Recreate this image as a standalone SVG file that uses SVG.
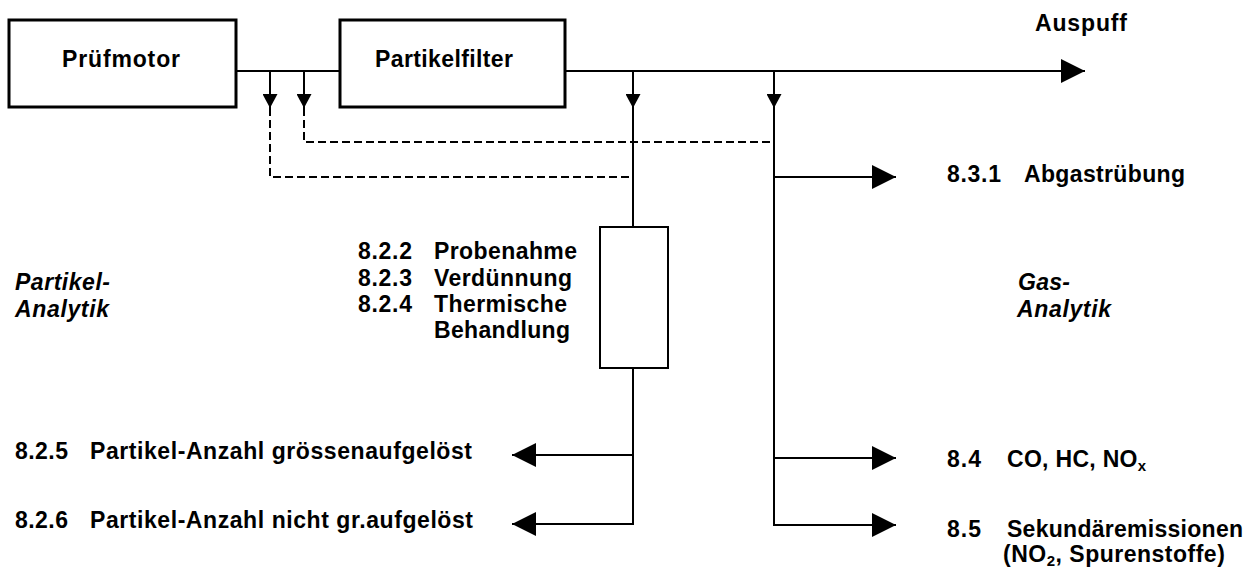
<svg xmlns="http://www.w3.org/2000/svg" width="1251" height="572" viewBox="0 0 1251 572">
<style>
  .t { font-family: "Liberation Sans", Arial, sans-serif; font-weight: bold; font-size: 23px; fill: #000; }
  .it { font-style: italic; }
  .box { fill: #fff; stroke: #000; stroke-width: 3; }
  .sbox { fill: #fff; stroke: #000; stroke-width: 2; }
  .ln { fill: none; stroke: #000; stroke-width: 2; }
  .dash { fill: none; stroke: #000; stroke-width: 2; stroke-dasharray: 8 4; }
  .sub { font-size: 15px; }
</style>
<defs>
  <marker id="big" markerUnits="userSpaceOnUse" markerWidth="24" markerHeight="24" viewBox="0 0 23 23" refX="23" refY="11.5" orient="auto">
    <path d="M0,0 L23,11.5 L0,23 Z" fill="#000"/>
  </marker>
  <marker id="small" markerUnits="userSpaceOnUse" markerWidth="14" markerHeight="15" viewBox="0 0 13 14" refX="13" refY="7" orient="auto">
    <path d="M0,0 L13,7 L0,14 Z" fill="#000"/>
  </marker>
</defs>
<rect width="1251" height="572" fill="#fff"/>

<g id="connectors">
  <line class="ln" x1="236" y1="71" x2="340" y2="71"/>
  <line class="ln" x1="565" y1="71" x2="1085" y2="71" marker-end="url(#big)"/>
  <line class="ln" x1="270" y1="71" x2="270" y2="108" marker-end="url(#small)"/>
  <line class="ln" x1="304" y1="71" x2="304" y2="108" marker-end="url(#small)"/>
  <polyline class="dash" points="270,108 270,177 633,177"/>
  <polyline class="dash" points="304,108 304,142 774,142"/>
  <line class="ln" x1="633" y1="71" x2="633" y2="108" marker-end="url(#small)"/>
  <line class="ln" x1="633" y1="106" x2="633" y2="227"/>
  <line class="ln" x1="774" y1="71" x2="774" y2="108" marker-end="url(#small)"/>
  <polyline class="ln" points="774,106 774,525 896,525" marker-end="url(#big)"/>
  <line class="ln" x1="774" y1="177" x2="896" y2="177" marker-end="url(#big)"/>
  <line class="ln" x1="774" y1="458" x2="896" y2="458" marker-end="url(#big)"/>
  <polyline class="ln" points="633,368 633,524 512,524" marker-end="url(#big)"/>
  <line class="ln" x1="633" y1="455" x2="512" y2="455" marker-end="url(#big)"/>
</g>

<g id="pruefmotor">
  <rect class="box" x="9" y="20" width="227" height="87"/>
  <text class="t" x="62" y="67" textLength="118" lengthAdjust="spacing">Prüfmotor</text>
</g>
<g id="partikelfilter">
  <rect class="box" x="340" y="20" width="225" height="87"/>
  <text class="t" x="375" y="67" textLength="138" lengthAdjust="spacing">Partikelfilter</text>
</g>
<g id="auspuff">
  <text class="t" x="1035" y="31" textLength="92" lengthAdjust="spacing">Auspuff</text>
</g>
<g id="probenahme">
  <rect class="sbox" x="600" y="227" width="68" height="141"/>
  <text class="t" x="358" y="259" textLength="54" lengthAdjust="spacing">8.2.2</text>
  <text class="t" x="434" y="259" textLength="143" lengthAdjust="spacing">Probenahme</text>
  <text class="t" x="358" y="286" textLength="54" lengthAdjust="spacing">8.2.3</text>
  <text class="t" x="434" y="286" textLength="138" lengthAdjust="spacing">Verdünnung</text>
  <text class="t" x="358" y="312" textLength="54" lengthAdjust="spacing">8.2.4</text>
  <text class="t" x="434" y="312" textLength="133" lengthAdjust="spacing">Thermische</text>
  <text class="t" x="434" y="338" textLength="136" lengthAdjust="spacing">Behandlung</text>
</g>
<g id="partikel-analytik">
  <text class="t it" x="15" y="290" textLength="95" lengthAdjust="spacing">Partikel-</text>
  <text class="t it" x="15" y="317" textLength="94" lengthAdjust="spacing">Analytik</text>
</g>
<g id="gas-analytik">
  <text class="t it" x="1018" y="290" textLength="52" lengthAdjust="spacing">Gas-</text>
  <text class="t it" x="1017" y="317" textLength="94" lengthAdjust="spacing">Analytik</text>
</g>
<g id="abgastruebung">
  <text class="t" x="947" y="182" textLength="54" lengthAdjust="spacing">8.3.1</text>
  <text class="t" x="1024" y="182" textLength="161" lengthAdjust="spacing">Abgastrübung</text>
</g>
<g id="anzahl-gr">
  <text class="t" x="15" y="459" textLength="53" lengthAdjust="spacing">8.2.5</text>
  <text class="t" x="90" y="459" textLength="382" lengthAdjust="spacing">Partikel-Anzahl grössenaufgelöst</text>
</g>
<g id="anzahl-nicht">
  <text class="t" x="15" y="528" textLength="53" lengthAdjust="spacing">8.2.6</text>
  <text class="t" x="90" y="528" textLength="383" lengthAdjust="spacing">Partikel-Anzahl nicht gr.aufgelöst</text>
</g>
<g id="co-hc-nox">
  <text class="t" x="947" y="467" textLength="34" lengthAdjust="spacing">8.4</text>
  <text class="t" x="1007" y="467" letter-spacing="0.3">CO, HC, NO<tspan class="sub" dy="4">x</tspan></text>
</g>
<g id="sekundaer">
  <text class="t" x="947" y="537" textLength="34" lengthAdjust="spacing">8.5</text>
  <text class="t" x="1007" y="537" textLength="236" lengthAdjust="spacing">Sekundäremissionen</text>
  <text class="t" x="1003" y="562" letter-spacing="0.5">(NO<tspan class="sub" dy="4">2</tspan><tspan dy="-4">, Spurenstoffe)</tspan></text>
</g>
</svg>
